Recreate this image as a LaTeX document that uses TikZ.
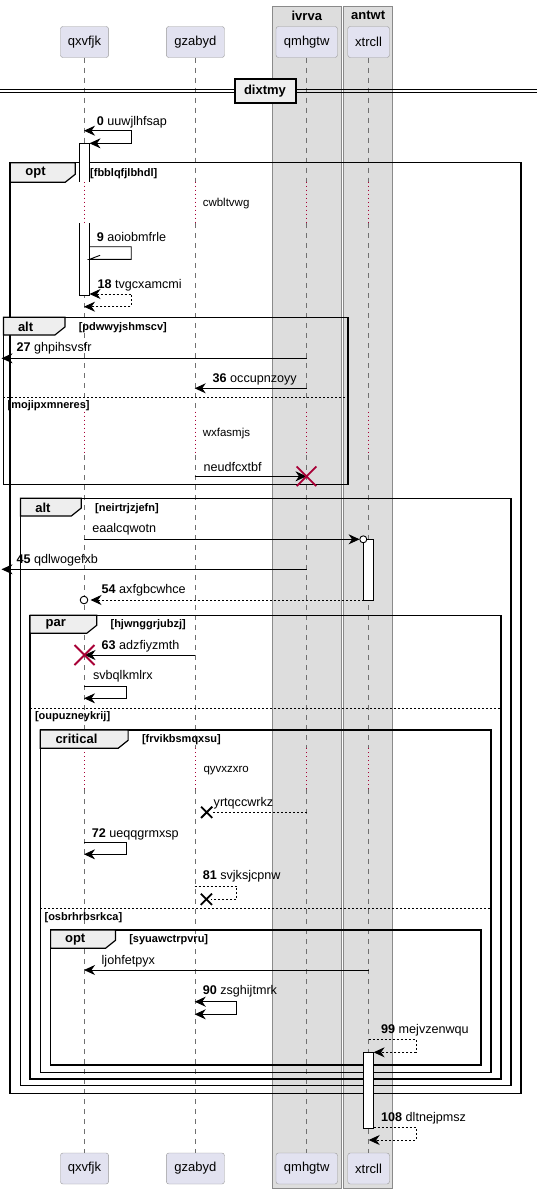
\documentclass[tikz,border=0pt]{standalone}
\usepackage{fontspec}
\setmainfont{Liberation Sans}
\usetikzlibrary{arrows.meta,calc}
\definecolor{pfill}{HTML}{E2E2F0}
\definecolor{pborder}{HTML}{9A9A9A}
\definecolor{boxgray}{HTML}{DDDDDD}
\definecolor{boxborder}{HTML}{8A8A8A}
\definecolor{tabfill}{HTML}{EEEEEE}
\definecolor{dred}{HTML}{A80036}
\definecolor{lifegray}{HTML}{707070}
\newcommand\myfs[1]{\fontsize{#1}{#1}\selectfont}
\tikzset{
  participant/.style={draw=pborder, fill=pfill, rounded corners=2.5pt, minimum height=31pt, inner sep=0pt, font=\myfs{13}},
  lifeline/.style={lifegray, line width=0.7pt, dash pattern=on 5pt off 5pt},
  delayline/.style={dred, line width=0.8pt, dash pattern=on 1pt off 3pt},
  msg/.style={black, line width=0.9pt},
  ret/.style={black, line width=0.9pt, dash pattern=on 2pt off 2pt},
  lbl/.style={anchor=west, inner sep=0pt, font=\myfs{12.6}},
  dlbl/.style={anchor=west, inner sep=0pt, font=\myfs{11.5}},
  guard/.style={anchor=west, inner sep=0pt, font=\bfseries\myfs{11}},
  kw/.style={anchor=west, inner sep=0pt, font=\bfseries\myfs{13}},
  frame/.style={black, line width=1.5pt},
  tab/.style={black, line width=1.2pt, fill=tabfill},
  sep/.style={black, line width=0.8pt, dash pattern=on 2pt off 2pt},
  act/.style={black, line width=0.9pt},
  xred/.style={dred, line width=1.8pt},
  xblack/.style={black, line width=1.8pt},
}
\begin{document}
\begin{tikzpicture}[x=1pt, y=-1pt, >={Stealth[length=11pt,width=10pt,inset=3.5pt]}]
\useasboundingbox (0,0) rectangle (537,1194);
\fill[white] (0,0) rectangle (537,1194);
% gray boxes
\draw[boxborder, fill=boxgray, line width=0.9pt] (272,6) rectangle (341.6,1188);
\draw[boxborder, fill=boxgray, line width=0.9pt] (343.4,6) rectangle (392.9,1188);
\node[font=\bfseries\myfs{13}] (ivrva) at (306.8,15.5) {ivrva};
\node[font=\bfseries\myfs{13}] (antwt) at (368.2,15.5) {antwt};
% participants
\node[participant, minimum width=48.1pt] (qxvfjk) at (84.5,42) {qxvfjk};
\node[participant, minimum width=58.1pt] (gzabyd) at (195.4,42) {gzabyd};
\node[participant, minimum width=61.5pt] (qmhgtw) at (306.7,42) {qmhgtw};
\node[participant, minimum width=41.7pt] (xtrcll) at (368.6,42) {xtrcll};
\node[participant, minimum width=48.1pt] (qxvfjkB) at (84.5,1168.5) {qxvfjk};
\node[participant, minimum width=58.1pt] (gzabydB) at (195.4,1168.5) {gzabyd};
\node[participant, minimum width=61.5pt] (qmhgtwB) at (306.7,1168.5) {qmhgtw};
\node[participant, minimum width=41.7pt] (xtrcllB) at (368.6,1168.5) {xtrcll};
% lifelines
\foreach \p/\q in {qxvfjk/qxvfjkB, gzabyd/gzabydB, qmhgtw/qmhgtwB, xtrcll/xtrcllB}{
  \draw[lifeline] (\p.south) -- (\p.south |- 0,181.7);
  \draw[delayline] (\p.south |- 0,181.7) -- (\p.south |- 0,223.3);
  \draw[lifeline] (\p.south |- 0,223.3) -- (\p.south |- 0,411.7);
  \draw[delayline] (\p.south |- 0,411.7) -- (\p.south |- 0,455);
  \draw[lifeline] (\p.south |- 0,455) -- (\p.south |- 0,748.3);
  \draw[delayline] (\p.south |- 0,748.3) -- (\p.south |- 0,789.3);
  \draw[lifeline] (\p.south |- 0,789.3) -- (\q.north);
}
% divider
\draw[black, line width=1pt] (0,89.8) -- (537,89.8);
\draw[black, line width=1pt] (0,92.8) -- (537,92.8);
\node[draw=black, line width=2pt, fill=tabfill, minimum width=61pt, minimum height=24pt, inner sep=0pt, font=\bfseries\myfs{13}] (dixtmy) at (265,90.8) {dixtmy};

% ---------- frames ----------
% opt outer
\draw[frame] (10.2,162.7) rectangle (521,1093.3);
\draw[tab] (10.2,162.7) -- (75.2,162.7) -- (75.2,174.3) -- (65.2,182.3) -- (10.2,182.3) -- cycle;
\node[kw] (kopt) at (25.2,173) {opt};
\node[guard] (gopt) at (90,174) {[fbblqfjlbhdl]};
% alt 1
\draw[frame] (3.4,317.3) rectangle (347.8,484.3);
\draw[tab] (3.4,317.3) -- (64.9,317.3) -- (64.9,327) -- (54.9,335) -- (3.4,335) -- cycle;
\node[kw] (kalt1) at (17.8,326.5) {alt};
\node[guard] (galt1) at (78.6,327.3) {[pdwwyjshmscv]};
\draw[sep] (3.4,397.3) -- (347.8,397.3);
\node[guard] (galt1b) at (7.5,405.3) {[mojipxmneres]};
% alt 2
\draw[frame] (20.5,498.3) rectangle (511,1085.7);
\draw[tab] (20.5,498.3) -- (81.3,498.3) -- (81.3,508) -- (71.3,516) -- (20.5,516) -- cycle;
\node[kw] (kalt2) at (35.2,507.5) {alt};
\node[guard] (galt2) at (95,508.3) {[neirtrjzjefn]};
% par
\draw[frame] (30.1,615.3) rectangle (501,1079);
\draw[tab] (30.1,615.3) -- (96.7,615.3) -- (96.7,625.3) -- (86.7,633.3) -- (30.1,633.3) -- cycle;
\node[kw] (kpar) at (45.4,624.5) {par};
\node[guard] (gpar) at (110.4,625) {[hjwnggrjubzj]};
\draw[sep] (30.1,708.3) -- (501,708.3);
\node[guard] (gparb) at (34.8,716.7) {[oupuzneykrij]};
% critical
\draw[frame] (40.3,730) rectangle (491,1072.7);
\draw[tab] (40.3,730) -- (128.1,730) -- (128.1,740.3) -- (118.1,748.3) -- (40.3,748.3) -- cycle;
\node[kw] (kcrit) at (55.3,739.3) {critical};
\node[guard] (gcrit) at (141.8,739.3) {[frvikbsmqxsu]};
\draw[sep] (40.3,908.3) -- (491,908.3);
\node[guard] (gcritb) at (44.4,917.3) {[osbrhrbsrkca]};
% opt 2
\draw[frame] (50.6,930) rectangle (481,1065);
\draw[tab] (50.6,930) -- (115.5,930) -- (115.5,940.3) -- (105.5,948.3) -- (50.6,948.3) -- cycle;
\node[kw] (kopt2) at (64.9,939.5) {opt};
\node[guard] (gopt2) at (129.1,940) {[syuawctrpvru]};

% ---------- delays ----------
\node[dlbl] (d1) at (202.6,203.3) {cwbltvwg};
\node[dlbl] (d2) at (202.6,434) {wxfasmjs};
\node[dlbl] (d3) at (203.3,770.7) {qyvxzxro};

% ---------- activations ----------
\fill[white] (79.6,143.3) rectangle (89.5,181.7);
\draw[act] (79.6,181.7) -- (79.6,143.3) -- (89.5,143.3) -- (89.5,181.7);
\fill[white] (79.6,223.3) rectangle (89.5,295);
\draw[act] (79.6,223.3) -- (79.6,295) -- (89.5,295) -- (89.5,223.3);
\draw[act, fill=white] (363.8,539.3) rectangle (373.6,600);
\draw[act, fill=white] (363.8,1052.3) rectangle (373.6,1128.3);

% ---------- messages ----------
% 0
\coordinate (m0a) at (84,130.7); \coordinate (m0b) at (89.5,143.3);
\draw[msg, <->] (m0a) -- (131.2,130.7) -- (131.2,143.3) -- (m0b);
\node[lbl] (l0) at (96.7,122) {\textbf{0} uuwjlhfsap};
% 9
\coordinate (m9a) at (89.5,246.7); \coordinate (m9b) at (89.5,259.3);
\draw[msg] (m9a) -- (131.2,246.7) -- (131.2,259.3) -- (m9b) -- (100.1,255.3);
\node[lbl] (l9) at (96.7,236.7) {\textbf{9} aoiobmfrle};
% 18
\coordinate (m18a) at (89.5,294); \coordinate (m18b) at (84,306.7);
\draw[ret, <->] (m18a) -- (131.2,294) -- (131.2,306.7) -- (m18b);
\node[lbl] (l18) at (97.4,285) {\textbf{18} tvgcxamcmi};
% 27
\coordinate (m27a) at (306.5,358.3); \coordinate (m27b) at (1.5,358.3);
\draw[msg, ->] (m27a) -- (m27b);
\node[lbl] (l27) at (16.4,348.3) {\textbf{27} ghpihsvsfr};
% 36
\coordinate (m36a) at (306.5,388.3); \coordinate (m36b) at (194.7,388.3);
\draw[msg, ->] (m36a) -- (m36b);
\node[lbl] (l36) at (212.5,379.3) {\textbf{36} occupnzoyy};
% neudfcxtbf
\coordinate (mna) at (194.7,476.3); \coordinate (mnb) at (306.5,476.3);
\draw[msg, ->] (mna) -- (mnb);
\node[lbl] (ln) at (203.3,466.7) {neudfcxtbf};
\draw[xred] (mnb) +(-9.8,-9.8) -- +(9.8,9.8) (mnb) +(-9.8,9.8) -- +(9.8,-9.8);
% eaalcqwotn
\coordinate (mea) at (84,539.3); \coordinate (meb) at (359.6,539.3);
\draw[msg, ->] (mea) -- (meb);
\draw[black, line width=0.9pt, fill=white] (363.3,539.3) circle (3.5pt);
\node[lbl] (le) at (92.2,529.3) {eaalcqwotn};
% 45
\coordinate (m45a) at (306.5,569.3); \coordinate (m45b) at (1.5,569.3);
\draw[msg, ->] (m45a) -- (m45b);
\node[lbl] (l45) at (16.4,560.7) {\textbf{45} qdlwogefxb};
% 54
\coordinate (m54a) at (363.8,600); \coordinate (m54b) at (90.5,600);
\draw[ret, ->] (m54a) -- (m54b);
\draw[black, line width=0.9pt, fill=white] (84,600) circle (3.8pt);
\node[lbl] (l54) at (101.5,590.7) {\textbf{54} axfgbcwhce};
% 63
\coordinate (m63a) at (194.7,655); \coordinate (m63b) at (84.5,655);
\draw[msg, ->] (m63a) -- (m63b);
\draw[xred] (m63b) +(-10,-10) -- +(10,10) (m63b) +(-10,10) -- +(10,-10);
\node[lbl] (l63) at (101.5,646) {\textbf{63} adzfiyzmth};
% svbqlkmlrx
\coordinate (msa) at (84,686.7); \coordinate (msb) at (84,698.3);
\draw[msg, ->] (msa) -- (126.4,686.7) -- (126.4,698.3) -- (msb);
\node[lbl] (ls) at (92.9,676.7) {svbqlkmlrx};
% yrtqccwrkz
\coordinate (mya) at (306.5,812.3); \coordinate (myb) at (206.7,812.3);
\draw[ret] (mya) -- ($(myb)+(5,0)$);
\draw[xblack] (myb) +(-5.6,-5.6) -- +(5.6,5.6) (myb) +(-5.6,5.6) -- +(5.6,-5.6);
\node[lbl] (ly) at (213.5,803.3) {yrtqccwrkz};
% 72
\coordinate (m72a) at (84,842.7); \coordinate (m72b) at (84,854.3);
\draw[msg, ->] (m72a) -- (126.4,842.7) -- (126.4,854.3) -- (m72b);
\node[lbl] (l72) at (91.6,834) {\textbf{72} ueqqgrmxsp};
% 81
\coordinate (m81a) at (194.7,886); \coordinate (m81b) at (206.4,899.3);
\draw[ret] (m81a) -- (236.8,886) -- (236.8,899.3) -- ($(m81b)+(5,0)$);
\draw[xblack] (m81b) +(-5.6,-5.6) -- +(5.6,5.6) (m81b) +(-5.6,5.6) -- +(5.6,-5.6);
\node[lbl] (l81) at (202.6,876.7) {\textbf{81} svjksjcpnw};
% ljohfetpyx
\coordinate (mla) at (368.7,970); \coordinate (mlb) at (84,970);
\draw[msg, ->] (mla) -- (mlb);
\node[lbl] (ll) at (101.5,961.7) {ljohfetpyx};
% 90
\coordinate (m90a) at (194.7,1001.7); \coordinate (m90b) at (194.7,1014.3);
\draw[msg, <->] (m90a) -- (236.8,1001.7) -- (236.8,1014.3) -- (m90b);
\node[lbl] (l90) at (202.6,991.7) {\textbf{90} zsghijtmrk};
% 99
\coordinate (m99a) at (368.7,1039.3); \coordinate (m99b) at (373.6,1052.3);
\draw[ret, ->] (m99a) -- (416,1039.3) -- (416,1052.3) -- (m99b);
\node[lbl] (l99) at (381,1030.7) {\textbf{99} mejvzenwqu};
% 108
\coordinate (m108a) at (373.6,1127.7); \coordinate (m108b) at (368.7,1140);
\draw[ret, ->] (m108a) -- (416,1127.7) -- (416,1140) -- (m108b);
\node[lbl] (l108) at (381,1118.3) {\textbf{108} dltnejpmsz};
\end{tikzpicture}
\end{document}
